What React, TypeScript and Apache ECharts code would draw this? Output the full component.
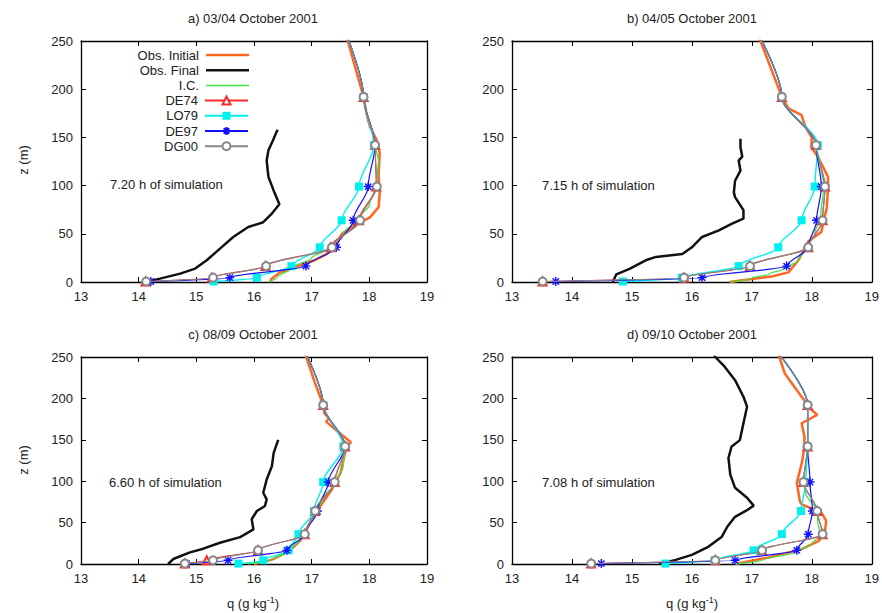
import React, { useEffect, useRef } from "react";
import * as echarts from "echarts";

// ---------- data ----------
const SERIES_NAMES = ["Obs. Initial", "Obs. Final", "I.C.", "DE74", "LO79", "DE97", "DG00"];
const PANEL_TITLES = ["a) 03/04 October 2001", "b) 04/05 October 2001", "c) 08/09 October 2001", "d) 09/10 October 2001"];
const SIM_LABELS = ["7.20 h of simulation", "7.15 h of simulation", "6.60 h of simulation", "7.08 h of simulation"];
const X_MIN = 13;
const X_MAX = 19;
const Y_MIN = 0;
const Y_MAX = 250;

// model levels (m); the last one lies above the plotted range
const Z_LEVELS = [0.5, 4.5, 16.5, 36, 64, 99, 142, 192, 262];

// panel a
const aDE74 = [14.12, 15.27, 16.2, 17.33, 17.82, 18.12, 18.1, 17.9, 17.57];
const aLO79 = [15.3, 16.05, 16.65, 17.14, 17.52, 17.82, 18.08, 17.9, 17.57];
const aDE97 = [14.21, 15.58, 16.9, 17.43, 17.72, 17.98, 18.1, 17.9, 17.57];
const aDG00 = [14.13, 15.29, 16.21, 17.35, 17.84, 18.13, 18.1, 17.9, 17.57];
const aIC = [[16.25, 0], [16.4, 5], [16.68, 15], [17.0, 25], [17.3, 35], [17.55, 50], [17.8, 65], [18.0, 80], [18.12, 100], [18.16, 125], [18.1, 142], [17.9, 192], [17.57, 262]];
const aInit = [[16.28, 0], [16.3, 3], [16.45, 10], [17.03, 22], [17.26, 29], [17.39, 37], [17.47, 44], [17.52, 49.5], [17.66, 56], [18.01, 67], [18.16, 77.5], [18.18, 92], [18.16, 110], [18.18, 134], [18.13, 147], [18.01, 161], [17.95, 175], [17.9, 192], [17.57, 262]];
const aFinal = [[14.13, 0], [14.37, 3.5], [14.72, 8.7], [14.98, 13.9], [15.18, 22.5], [15.41, 34.6], [15.64, 46.7], [15.9, 57], [16.16, 62], [16.31, 71], [16.44, 80.6], [16.34, 95], [16.25, 109], [16.22, 126], [16.25, 136.6], [16.33, 147], [16.39, 155.6], [16.41, 158]];

// panel b
const bDE74 = [13.51, 15.87, 16.97, 17.94, 18.18, 18.22, 18.07, 17.5, 17.07];
const bLO79 = [14.85, 15.83, 16.78, 17.44, 17.83, 18.05, 18.1, 17.5, 17.07];
const bDE97 = [13.73, 16.17, 17.58, 17.94, 18.08, 18.16, 18.07, 17.5, 17.07];
const bDG00 = [13.51, 15.87, 16.97, 17.94, 18.18, 18.22, 18.07, 17.5, 17.07];
const bIC = [[16.66, 0], [17.0, 4], [17.28, 8], [17.55, 14], [17.77, 22], [17.9, 35], [18.05, 50], [18.15, 70], [18.2, 100], [18.15, 120], [18.07, 142], [17.5, 192], [17.07, 262]];
const bInit = [[16.63, 0], [17.0, 3], [17.35, 6], [17.61, 10], [17.77, 22], [17.83, 29], [17.94, 42], [18.16, 52], [18.2, 64], [18.25, 77], [18.27, 98], [18.27, 109], [18.19, 119], [18.1, 130], [17.99, 140], [18.0, 150], [17.94, 156], [17.88, 163], [17.83, 173], [17.61, 180], [17.5, 192], [17.07, 262]];
const bFinal = [[14.68, 0], [14.74, 8], [14.96, 13.6], [15.23, 22.5], [15.4, 26], [15.84, 29], [16.0, 36], [16.17, 46.7], [16.45, 53.6], [16.67, 60.6], [16.86, 65.7], [16.86, 74.5], [16.72, 88], [16.7, 93], [16.72, 105], [16.81, 115.6], [16.78, 126], [16.84, 130], [16.81, 140], [16.81, 148.6]];

// panel c
const cDE74 = [14.8, 15.18, 16.07, 16.88, 17.06, 17.4, 17.58, 17.2, 16.85];
const cLO79 = [15.73, 16.16, 16.6, 16.77, 17.04, 17.2, 17.55, 17.2, 16.85];
const cDE97 = [14.83, 15.55, 16.57, 16.88, 17.1, 17.29, 17.58, 17.2, 16.85];
const cDG00 = [14.8, 15.29, 16.07, 16.88, 17.06, 17.4, 17.58, 17.2, 16.85];
const cIC = [[15.9, 0], [16.3, 5], [16.6, 15], [16.8, 30], [17.0, 55], [17.2, 80], [17.45, 100], [17.55, 120], [17.58, 142], [17.2, 192], [16.85, 262]];
const cInit = [[16.0, 0], [16.3, 5], [16.6, 15], [16.8, 28], [16.9, 40], [17.0, 55], [17.15, 70], [17.35, 90], [17.5, 110], [17.55, 125], [17.6, 140], [17.68, 147], [17.45, 160], [17.25, 172], [17.3, 176], [17.22, 182], [17.2, 192], [17.05, 220], [16.85, 262]];
const cFinal = [[14.51, 0], [14.6, 6], [14.89, 14], [15.12, 18.5], [15.41, 25.7], [15.76, 32.5], [15.99, 41.8], [15.96, 54], [16.05, 64], [16.19, 70], [16.22, 78], [16.16, 86], [16.22, 102], [16.31, 118], [16.34, 134], [16.4, 146], [16.42, 150]];

// panel d
const dDE74 = [14.32, 16.39, 17.17, 18.18, 18.09, 17.86, 17.93, 17.93, 17.36];
const dLO79 = [15.56, 16.38, 17.03, 17.5, 17.82, 17.9, 17.93, 17.93, 17.36];
const dDE97 = [14.49, 16.72, 17.75, 17.94, 18.01, 17.97, 17.93, 17.93, 17.36];
const dDG00 = [14.32, 16.39, 17.17, 18.18, 18.09, 17.86, 17.93, 17.93, 17.36];
const dIC = [[16.72, 0], [17.2, 5], [17.7, 14], [18.0, 24], [18.15, 35], [18.1, 50], [18.09, 64], [17.9, 85], [17.86, 99], [17.9, 120], [17.93, 142], [17.93, 192], [17.36, 262]];
const dInit = [[16.72, 0], [17.28, 8], [17.83, 18], [18.12, 28], [18.22, 40], [18.24, 52], [18.16, 62], [17.83, 72], [17.8, 76], [17.75, 98], [17.83, 121], [17.86, 133], [17.88, 153], [17.83, 170], [18.09, 180], [18.0, 186], [17.83, 202], [17.69, 216], [17.55, 230], [17.46, 250], [17.42, 262]];
const dFinal = [[15.45, 0], [15.73, 5], [16.0, 11], [16.28, 21], [16.5, 33], [16.59, 45], [16.72, 57], [16.92, 65], [17.03, 70.5], [16.92, 80], [16.72, 92], [16.64, 108], [16.61, 128], [16.66, 141.6], [16.8, 149.6], [16.86, 170], [16.92, 190], [16.86, 202], [16.72, 222], [16.55, 238], [16.39, 250], [16.3, 262]];

const MODEL_DATA = [
  [aDE74, aLO79, aDE97, aDG00],
  [bDE74, bLO79, bDE97, bDG00],
  [cDE74, cLO79, cDE97, cDG00],
  [dDE74, dLO79, dDE97, dDG00],
];
const IC_DATA = [aIC, bIC, cIC, dIC];
const INIT_DATA = [aInit, bInit, cInit, dInit];
const FINAL_DATA = [aFinal, bFinal, cFinal, dFinal];

// ---------- layout / styles ----------
const GRIDS = [
  { left: 81, top: 41, width: 346, height: 241 },
  { left: 512, top: 41, width: 362, height: 241 },
  { left: 81, top: 357, width: 346, height: 207 },
  { left: 512, top: 357, width: 362, height: 207 },
];
const FONT = "Liberation Sans, Arial, Helvetica, sans-serif";
const C_INIT = "#ff6622";
const C_FINAL = "#111111";
const C_IC = "#44e044";
const C_DE74 = "#ff2a2a";
const C_LO79 = "#00f0f0";
const C_DE97 = "#1010ff";
const C_DG00 = "#888888";
const COLORS = [C_INIT, C_FINAL, C_IC, C_DE74, C_LO79, C_DE97, C_DG00];
const STAR = "path://M0,5L10,5M5,0L5,10M1.5,1.5L8.5,8.5M8.5,1.5L1.5,8.5";

function buildOption() {
  const xAxes: any[] = [];
  const yAxes: any[] = [];
  const tickCommon = { inside: true, length: 5, lineStyle: { color: "#000", width: 1 } };
  const lineCommon = { show: true, onZero: false, lineStyle: { color: "#000", width: 1.3 } };
  const labelCommon = { fontSize: 13, color: "#222", fontFamily: FONT, margin: 8 };
  for (let p = 0; p < 4; p++) {
    xAxes.push({
      type: "value", gridIndex: p, min: X_MIN, max: X_MAX, interval: 1, position: "bottom",
      axisLine: lineCommon, axisTick: tickCommon, axisLabel: labelCommon, splitLine: { show: false },
    });
    yAxes.push({
      type: "value", gridIndex: p, min: Y_MIN, max: Y_MAX, interval: 50, position: "left",
      axisLine: lineCommon, axisTick: tickCommon, axisLabel: labelCommon, splitLine: { show: false },
    });
  }
  for (let p = 0; p < 4; p++) {
    xAxes.push({
      type: "value", gridIndex: p, min: X_MIN, max: X_MAX, interval: 1, position: "top",
      axisLine: lineCommon, axisTick: tickCommon, axisLabel: { show: false }, splitLine: { show: false },
    });
    yAxes.push({
      type: "value", gridIndex: p, min: Y_MIN, max: Y_MAX, interval: 50, position: "right",
      axisLine: lineCommon, axisTick: tickCommon, axisLabel: { show: false }, splitLine: { show: false },
    });
  }

  const series: any[] = [];
  for (let p = 0; p < 4; p++) {
    const base = { type: "line", xAxisIndex: p, yAxisIndex: p, clip: true };
    series.push({
      ...base, name: SERIES_NAMES[0], data: INIT_DATA[p], symbol: "none",
      lineStyle: { color: C_INIT, width: 2.5 }, itemStyle: { color: C_INIT }, z: 2,
    });
    series.push({
      ...base, name: SERIES_NAMES[1], data: FINAL_DATA[p], symbol: "none",
      lineStyle: { color: C_FINAL, width: 2.5 }, itemStyle: { color: C_FINAL }, z: 2,
    });
    series.push({
      ...base, name: SERIES_NAMES[2], data: IC_DATA[p], symbol: "none", smooth: 0.3, smoothMonotone: "y",
      lineStyle: { color: C_IC, width: 1.3 }, itemStyle: { color: C_IC }, z: 3,
    });
    const [de74, lo79, de97, dg00] = MODEL_DATA[p];
    const toPts = (arr: number[]) => Z_LEVELS.map((z, i) => [arr[i], z]);
    series.push({
      ...base, name: SERIES_NAMES[3], data: toPts(de74), smooth: 0.3, smoothMonotone: "y",
      symbol: "emptyTriangle", symbolSize: 8,
      lineStyle: { color: C_DE74, width: 1.2 }, itemStyle: { color: C_DE74, borderWidth: 1.2 }, z: 4,
    });
    series.push({
      ...base, name: SERIES_NAMES[4], data: toPts(lo79), smooth: 0.3, smoothMonotone: "y",
      symbol: "rect", symbolSize: 8,
      lineStyle: { color: C_LO79, width: 1.4 }, itemStyle: { color: C_LO79 }, z: 5,
    });
    series.push({
      ...base, name: SERIES_NAMES[5], data: toPts(de97), smooth: 0.3, smoothMonotone: "y",
      symbol: STAR, symbolSize: 9,
      lineStyle: { color: C_DE97, width: 1.2 }, itemStyle: { color: C_DE97, borderColor: C_DE97, borderWidth: 1.4 }, z: 6,
    });
    series.push({
      ...base, name: SERIES_NAMES[6], data: toPts(dg00), smooth: 0.3, smoothMonotone: "y",
      symbol: "emptyCircle", symbolSize: 8,
      lineStyle: { color: C_DG00, width: 1.2 }, itemStyle: { color: C_DG00, borderWidth: 1.2 }, z: 7,
    });
  }

  const legendRowsY = [55, 70.2, 85.4, 100.6, 115.8, 131, 146.2];
  const lineOnlyHeights = [2.5, 2.5, 1.5];
  const legend = SERIES_NAMES.map((n, i) => {
    const lineOnly = i < 3;
    return {
      data: lineOnly ? [{ name: n, icon: "rect", itemStyle: { color: COLORS[i] } }] : [n],
      orient: "vertical", align: "right", right: 882 - 249, top: legendRowsY[i] - 7.5,
      itemWidth: 43, itemHeight: lineOnly ? lineOnlyHeights[i] : 10, padding: 0, selectedMode: false,
      textStyle: { fontSize: 13, color: "#222", fontFamily: FONT, padding: [0, 2, 0, 0], lineHeight: 15 },
    };
  });

  const titleCenters = [[253, 18], [692, 18], [253, 334], [692, 334]];
  const simPos = [[110, 184], [542, 185], [109, 482], [542, 482]];
  const graphic: any[] = [];
  titleCenters.forEach(([x, y], i) => {
    graphic.push({
      type: "text", x, y,
      style: { text: PANEL_TITLES[i], fontSize: 13, fill: "#222", fontFamily: FONT, align: "center", verticalAlign: "middle" },
    });
  });
  simPos.forEach(([x, y], i) => {
    graphic.push({
      type: "text", x, y,
      style: { text: SIM_LABELS[i], fontSize: 13, fill: "#222", fontFamily: FONT, align: "left", verticalAlign: "middle" },
    });
  });
  [[23, 160], [23, 460]].forEach(([x, y]) => {
    graphic.push({
      type: "text", x, y, rotation: Math.PI / 2,
      style: { text: "z (m)", fontSize: 13, fill: "#222", fontFamily: FONT, align: "center", verticalAlign: "middle" },
    });
  });
  [[253, 603], [692, 603]].forEach(([x, y]) => {
    graphic.push({
      type: "text", x, y,
      style: {
        text: "{a|q (g kg}{s|-1}{a|)}", fontFamily: FONT, align: "center", verticalAlign: "middle",
        rich: {
          a: { fontSize: 13, fill: "#222", fontFamily: FONT },
          s: { fontSize: 9, fill: "#222", fontFamily: FONT, padding: [0, 0, 7, 0] },
        },
      },
    });
  });

  return {
    animation: false,
    backgroundColor: "#ffffff",
    grid: GRIDS.map((g) => ({ ...g, containLabel: false })),
    xAxis: xAxes,
    yAxis: yAxes,
    legend,
    series,
    graphic,
  };
}

export default function App() {
  const ref = useRef<HTMLDivElement>(null);
  useEffect(() => {
    if (!ref.current) return;
    const chart = echarts.init(ref.current, undefined, { renderer: "svg" });
    chart.setOption(buildOption() as any);
    return () => chart.dispose();
  }, []);
  return (
    <div
      ref={ref}
      style={{ position: "absolute", left: 0, top: 0, width: 882, height: 613, background: "#fff" }}
    />
  );
}
